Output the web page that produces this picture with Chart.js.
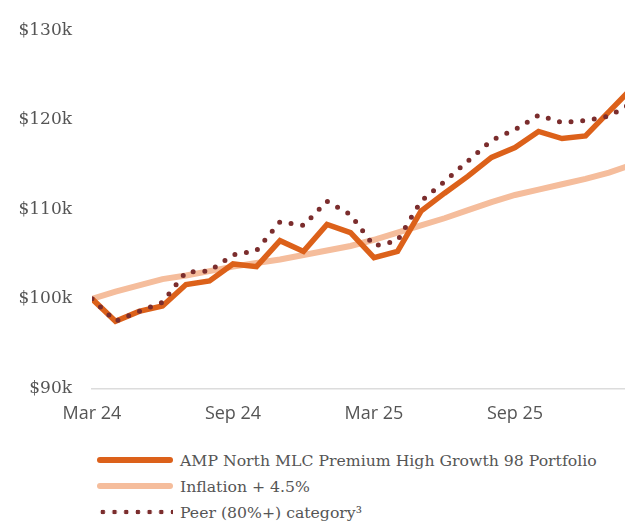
<!DOCTYPE html>
<html>
<head>
<meta charset="utf-8">
<script src="https://cdn.jsdelivr.net/npm/chart.js@4"></script>
<style>
  body { margin: 0; background: #fff; width: 625px; height: 521px; overflow: hidden; position: relative; }
  #wrap { position: absolute; left: 0; top: 0; width: 625px; height: 440px; }
  #legend { position: absolute; left: 97px; top: 447px; font-family: "DejaVu Serif", serif; font-size: 15.7px; color: #555; }
  .row { height: 26px; display: flex; align-items: center; }
  .sw { width: 76px; margin-right: 7px; }
</style>
</head>
<body>
<div id="wrap"><canvas id="chart"></canvas></div>
<div id="legend"></div>
<script>
// monthly values, $k
const months = ['Mar 24', 'Apr 24', 'May 24', 'Jun 24', 'Jul 24', 'Aug 24', 'Sep 24', 'Oct 24', 'Nov 24', 'Dec 24',
    'Jan 25', 'Feb 25', 'Mar 25', 'Apr 25', 'May 25', 'Jun 25', 'Jul 25', 'Aug 25', 'Sep 25', 'Oct 25', 'Nov 25', 'Dec 25',
    'Jan 26', 'Feb 26'];
const ampValues = [100.0, 97.5, 98.6, 99.2, 101.6, 102.0, 103.9, 103.6, 106.5, 105.3, 108.3, 107.4,
    104.6, 105.3, 109.8, 111.8, 113.7, 115.8, 116.9, 118.7, 117.9, 118.2, 120.9, 123.6];
const inflationValues = [100.0, 100.8, 101.5, 102.2, 102.6, 103.1, 103.6, 104.0, 104.4, 104.9, 105.4, 105.9,
    106.6, 107.4, 108.2, 109.0, 109.9, 110.8, 111.6, 112.2, 112.8, 113.4, 114.1, 115.0];
const peerValues = [100.0, 97.5, 98.6, 99.6, 103.0, 103.1, 104.9, 105.4, 108.6, 108.2, 110.9, 109.4,
    105.9, 106.5, 110.9, 113.1, 115.4, 117.7, 118.9, 120.5, 119.7, 119.9, 120.4, 121.9];
const xTickLabels = ['Mar 24', 'Sep 24', 'Mar 25', 'Sep 25'];
const yTickValues = [90, 100, 110, 120, 130];

const toPoints = arr => arr.map((v, i) => ({ x: i, y: v }));

const datasets = [
    {
        label: 'Peer (80%+) category³',
        data: toPoints(peerValues),
        borderColor: '#7b2d2d',
        borderWidth: 5,
        borderDash: [0, 11.7],
        borderCapStyle: 'round',
        order: 1
    },
    {
        label: 'AMP North MLC Premium High Growth 98 Portfolio',
        data: toPoints(ampValues),
        borderColor: '#dc611a',
        borderWidth: 5.5,
        borderJoinStyle: 'miter',
        order: 2
    },
    {
        label: 'Inflation + 4.5%',
        data: toPoints(inflationValues),
        borderColor: '#f5bd9c',
        borderWidth: 6,
        order: 3
    }
];

const ctx = document.getElementById('chart').getContext('2d');
new Chart(ctx, {
    type: 'line',
    data: { datasets: datasets },
    options: {
        responsive: true,
        maintainAspectRatio: false,
        animation: false,
        layout: { padding: { top: 16, right: 0, left: 0, bottom: 0 } },
        elements: { point: { radius: 0 }, line: { tension: 0, fill: false } },
        plugins: { legend: { display: false }, tooltip: { enabled: false } },
        scales: {
            x: {
                type: 'linear',
                min: 0,
                max: 22.68,
                afterBuildTicks: scale => {
                    scale.ticks = xTickLabels.map(l => ({ value: months.indexOf(l) }));
                },
                ticks: {
                    callback: v => months[v],
                    color: '#555',
                    padding: 15,
                    maxRotation: 0,
                    font: { family: 'Open Sans', size: 18 }
                },
                grid: { display: false, drawTicks: false },
                border: { display: true, color: '#dcdcdc', width: 1.5 }
            },
            y: {
                min: 90,
                max: 130,
                afterBuildTicks: scale => {
                    scale.ticks = yTickValues.map(v => ({ value: v }));
                },
                afterFit: scale => { scale.width = 92; },
                ticks: {
                    callback: v => '$' + v + 'k',
                    color: '#555',
                    padding: 20,
                    font: { family: 'DejaVu Serif', size: 17 }
                },
                grid: { display: false, drawTicks: false },
                border: { display: false }
            }
        }
    }
});

// legend in the order shown in the picture
const legendOrder = [1, 2, 0];
const legend = document.getElementById('legend');
legendOrder.forEach(i => {
    const ds = datasets[i];
    const row = document.createElement('div');
    row.className = 'row';
    const sw = document.createElement('div');
    sw.className = 'sw';
    if (ds.borderDash) {
        sw.style.height = '6px';
        sw.style.background = 'radial-gradient(circle, ' + ds.borderColor + ' 2.1px, transparent 2.6px) 0 0 / 11.7px 6px repeat-x';
    } else {
        sw.style.height = ds.borderWidth + 'px';
        sw.style.borderRadius = '3px';
        sw.style.background = ds.borderColor;
    }
    const txt = document.createElement('span');
    txt.textContent = ds.label;
    row.appendChild(sw);
    row.appendChild(txt);
    legend.appendChild(row);
});
</script>
</body>
</html>
